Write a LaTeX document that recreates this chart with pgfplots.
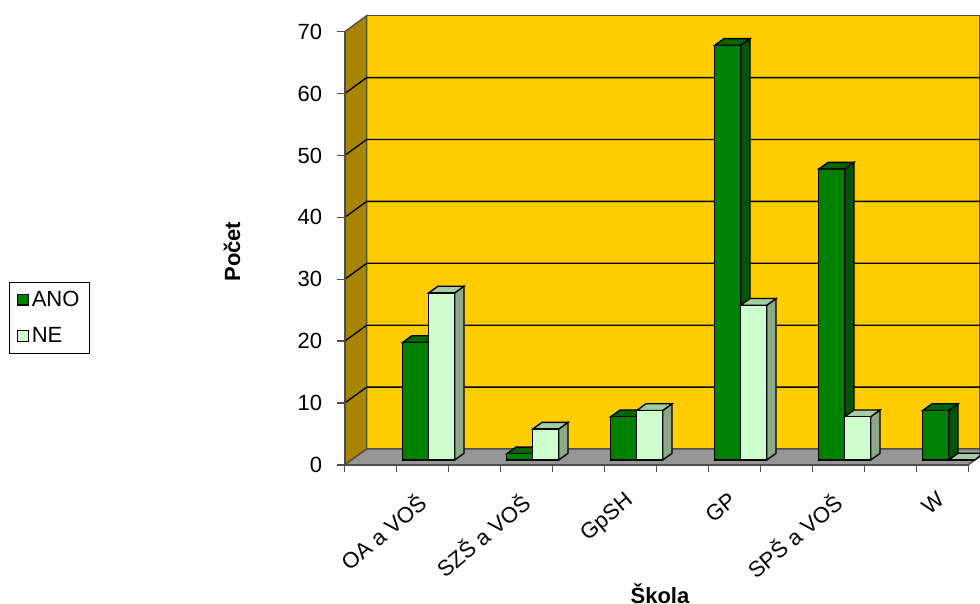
\documentclass[border=0pt]{standalone}
\usepackage{fontspec}
\setmainfont{Liberation Sans}
\usepackage{pgfplots}
\usepackage{pgfplotstable}
\pgfplotsset{compat=1.18}

\definecolor{wall}{HTML}{FFCC00}
\definecolor{sidewall}{HTML}{A68500}
\definecolor{floorgray}{HTML}{969696}
\definecolor{axisgray}{HTML}{4D4D4D}
\definecolor{ano}{HTML}{008000}
\definecolor{anoside}{HTML}{005500}
\definecolor{anotop}{HTML}{006600}
\definecolor{ne}{HTML}{CCFFCC}
\definecolor{neside}{HTML}{88AA88}
\definecolor{netop}{HTML}{A3CCA3}

\pgfplotstableread{
x ano ne
0 19 27
1 1 5
2 7 8
3 67 25
4 47 7
5 8 0
}\skoly

% side and top face of one bar: left edge, value, side colour, top colour
\newcommand{\barbox}[4]{%
  \pgfmathsetmacro\xr{#1+0.25}%
  \pgfmathsetmacro\xl{#1+0.0894}%
  \pgfmathsetmacro\xb{#1+0.3394}%
  \pgfmathsetmacro\vt{#2+1.08}%
  \addplot[fill=#3, draw=black, line width=1pt, forget plot] coordinates {(\xr,0) (\xb,1.08) (\xb,\vt) (\xr,#2)} --cycle;
  \addplot[fill=#4, draw=black, line width=1pt, forget plot] coordinates {(#1,#2) (\xl,\vt) (\xb,\vt) (\xr,#2)} --cycle;
}

\begin{document}
\begin{tikzpicture}
\useasboundingbox (0,0) rectangle (735pt,-452.25pt);
\begin{axis}[
    at={(258.525pt,-348.75pt)},
    anchor=south west,
    scale only axis,
    width=476.5pt,
    height=337.5pt,
    xmin=-0.8077, xmax=5.301,
    ymin=-0.808, ymax=71.89,
    clip=false,
    axis lines=left,
    axis line style={draw=none, -},
    tick align=outside,
    tick style={draw=axisgray, line width=1.1pt},
    major tick length=5.5pt,
    xtick={-0.8077,-0.3077,0.1923,0.6923,1.1923,1.6923,2.1923,2.6923,3.1923,3.6923,4.1923,4.6923,5.1923},
    xticklabels={{},OA a VOŠ,{},SZŠ a VOŠ,{},GpSH,{},GP,{},SPŠ a VOŠ,{},W,{}},
    ytick={-0.808,9.192,19.192,29.192,39.192,49.192,59.192,69.192},
    yticklabels={0,10,20,30,40,50,60,70},
    ticklabel style={font=\fontsize{16.5pt}{18pt}\selectfont},
    xticklabel style={rotate=40, anchor=north east, xshift=5.5pt, yshift=-16.4pt},
    yticklabel style={xshift=-8pt},
    xlabel={\textbf{Škola}},
    ylabel={\textbf{Počet}},
    label style={font=\fontsize{16.5pt}{18pt}\selectfont},
    xlabel style={at={(axis description cs:0.4963,-0.2867)}, anchor=center, inner sep=0pt},
    ylabel style={at={(axis description cs:-0.1774,0.474)}, anchor=center, rotate=0},
    legend style={at={(axis description cs:-0.5279,0.4073)}, anchor=north west,
        draw=black, line width=0.7pt, fill=white, inner xsep=5.5pt, inner ysep=4.5pt,
        font=\fontsize{16.5pt}{18pt}\selectfont, row sep=10.5pt, /tikz/every even column/.append style={column sep=0pt}},
    legend cell align=left,
]
% walls and floor
\addplot[fill=wall, draw=axisgray, line width=1pt, forget plot] coordinates {(-0.5962,1.777) (-0.5962,71.78) (5.301,71.78) (5.301,1.777)} --cycle;
\addplot[fill=sidewall, draw=axisgray, line width=1pt, forget plot] coordinates {(-0.8077,-0.808) (-0.5962,1.777) (-0.5962,71.78) (-0.8077,69.192)} --cycle;
\addplot[fill=floorgray, draw=axisgray, line width=1pt, forget plot] coordinates {(-0.8077,-0.808) (5.1856,-0.808) (5.301,0.6) (5.301,1.777) (-0.5962,1.777)} --cycle;

% grid lines on the walls
\addplot[black, line width=1pt, forget plot] coordinates {(-0.8077,9.192) (-0.5962,11.777) (5.301,11.777)};
\addplot[black, line width=1pt, forget plot] coordinates {(-0.8077,19.192) (-0.5962,21.777) (5.301,21.777)};
\addplot[black, line width=1pt, forget plot] coordinates {(-0.8077,29.192) (-0.5962,31.777) (5.301,31.777)};
\addplot[black, line width=1pt, forget plot] coordinates {(-0.8077,39.192) (-0.5962,41.777) (5.301,41.777)};
\addplot[black, line width=1pt, forget plot] coordinates {(-0.8077,49.192) (-0.5962,51.777) (5.301,51.777)};
\addplot[black, line width=1pt, forget plot] coordinates {(-0.8077,59.192) (-0.5962,61.777) (5.301,61.777)};

% axis lines in front of the walls
\addplot[axisgray, line width=1.5pt, forget plot] coordinates {(-0.8077,69.192) (-0.8077,-0.808) (5.1856,-0.808)};

% ANO
\barbox{-0.25}{19}{anoside}{anotop}
\barbox{0.75}{1}{anoside}{anotop}
\barbox{1.75}{7}{anoside}{anotop}
\barbox{2.75}{67}{anoside}{anotop}
\barbox{3.75}{47}{anoside}{anotop}
\barbox{4.75}{8}{anoside}{anotop}
\addplot[ybar, bar width=19.5pt, bar shift=-9.75pt, fill=ano, draw=black, line width=1pt,
    legend image code/.code={\draw[fill=ano, draw=black, line width=1pt] (0pt,-4pt) rectangle (8pt,4pt);}]
    table[x=x, y=ano] {\skoly};
\addlegendentry{ANO}

% NE, the last bar runs off the edge of the picture
\barbox{0}{27}{neside}{netop}
\barbox{1}{5}{neside}{netop}
\barbox{2}{8}{neside}{netop}
\barbox{3}{25}{neside}{netop}
\barbox{4}{7}{neside}{netop}
\addplot[fill=netop, draw=black, line width=1pt, forget plot] coordinates {(5,0) (5.0894,1.08) (5.301,1.08) (5.301,0.66) (5.25,0)} --cycle;
\addplot[ybar, bar width=19.5pt, bar shift=9.75pt, fill=ne, draw=black, line width=1pt,
    legend image code/.code={\draw[fill=ne, draw=black, line width=1pt] (0pt,-4pt) rectangle (8pt,4pt);}]
    table[x=x, y=ne] {\skoly};
\addlegendentry{NE}
\end{axis}
\end{tikzpicture}
\end{document}
